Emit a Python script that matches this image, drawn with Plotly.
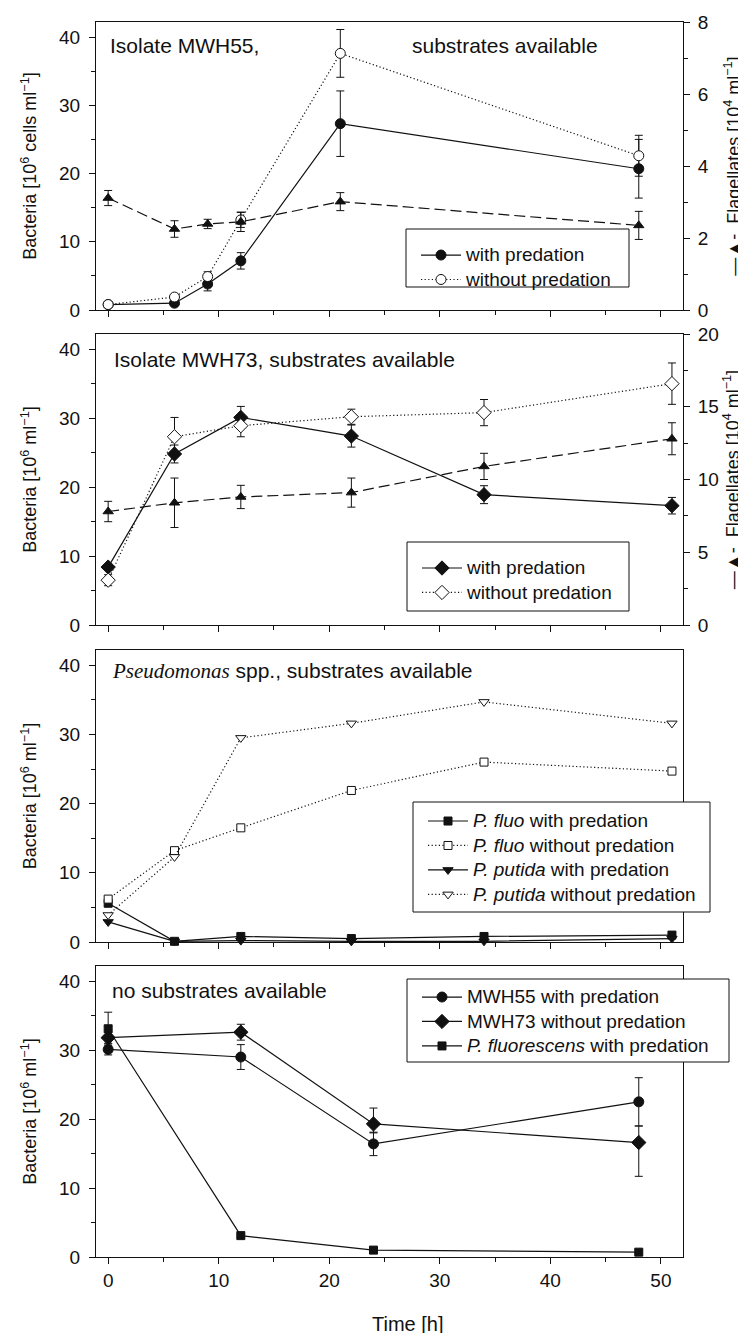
import plotly.graph_objects as go

# ---------------- data ----------------
# Panel 1: Isolate MWH55, substrates available
p1_time = [0, 6, 9, 12, 21, 48]
p1_with = [0.8, 1.0, 3.8, 7.2, 27.3, 20.7]
p1_with_err = [0.3, 0.3, 1.0, 1.2, 4.8, 4.3]
p1_without = [0.8, 1.9, 4.9, 13.2, 37.6, 22.6]
p1_without_err = [0.3, 0.3, 0.7, 1.1, 3.5, 3.0]
p1_flag = [3.11, 2.25, 2.39, 2.45, 3.01, 2.35]
p1_flag_err = [0.21, 0.23, 0.13, 0.27, 0.25, 0.39]

# Panel 2: Isolate MWH73, substrates available
p2_time = [0, 6, 12, 22, 34, 51]
p2_with = [8.4, 24.8, 30.1, 27.4, 18.9, 17.3]
p2_with_err = [0.4, 1.3, 1.6, 1.6, 1.3, 1.2]
p2_without = [6.5, 27.3, 28.9, 30.2, 30.8, 35.0]
p2_without_err = [0.8, 2.8, 1.6, 1.1, 1.9, 3.0]
p2_flag = [7.8, 8.4, 8.8, 9.1, 10.9, 12.8]
p2_flag_err = [0.7, 1.7, 0.8, 1.0, 0.9, 1.1]

# Panel 3: Pseudomonas spp., substrates available
p3_time = [0, 6, 12, 22, 34, 51]
p3_fluo_with = [5.6, 0.1, 0.8, 0.5, 0.8, 1.0]
p3_fluo_without = [6.2, 13.2, 16.5, 21.9, 26.0, 24.7]
p3_putida_with = [2.9, 0.1, 0.2, 0.1, 0.1, 0.5]
p3_putida_without = [3.9, 12.3, 29.5, 31.6, 34.7, 31.6]

# Panel 4: no substrates available
p4_time = [0, 12, 24, 48]
p4_mwh55 = [30.1, 29.0, 16.4, 22.5]
p4_mwh55_err = [0.8, 1.8, 1.7, 3.5]
p4_mwh73 = [31.8, 32.6, 19.3, 16.6]
p4_mwh73_err_plus = [0.8, 1.15, 2.3, 2.4]
p4_mwh73_err_minus = [0.8, 1.15, 1.3, 4.9]
p4_pfluo = [33.1, 3.1, 1.0, 0.7]
p4_pfluo_err = [2.4, 0.2, 0.1, 0.2]

x_ticks = [0, 10, 20, 30, 40, 50]

# ---------------- layout helpers ----------------
W, H = 746, 1333
ML, MR, MT, MB = 88, 71, 14, 84
PW, PH = W - ML - MR, H - MT - MB


def px_x(px):
    return (px - ML) / PW


def px_y(py):
    return (H - MB - py) / PH


FONT = "Liberation Sans, Arial, sans-serif"
BLACK = "#111111"
LEG_TXT = '<span style="font-size:19px">{}</span>'
DOT = "1.2px,2.4px"
DASH = "11px,5px"

fig = go.Figure()


def err(arr, minus=None, width=4):
    d = dict(type="data", array=arr, color=BLACK, thickness=1, width=width, visible=True)
    if minus is not None:
        d["symmetric"] = False
        d["arrayminus"] = minus
    return d


def trace(x, y, xa, ya, name, symbol, filled, dash, size, legend=None, error=None, showlegend=True):
    fig.add_trace(go.Scatter(
        x=x, y=y, xaxis=xa, yaxis=ya, name=LEG_TXT.format(name), mode="lines+markers",
        line=dict(color=BLACK, width=1.2, dash=dash),
        marker=dict(symbol=symbol, size=size, color=BLACK if filled else "white",
                    line=dict(color=BLACK, width=1)),
        error_y=error, cliponaxis=False, legend=legend, showlegend=showlegend,
    ))


# Panel 1
trace(p1_time, p1_flag, "x", "y5", "flagellates", "triangle-up", True, DASH, 9,
      error=err(p1_flag_err), showlegend=False)
trace(p1_time, p1_with, "x", "y", "with predation", "circle", True, "solid", 10,
      legend="legend", error=err(p1_with_err))
trace(p1_time, p1_without, "x", "y", "without predation", "circle", False, DOT, 10,
      legend="legend", error=err(p1_without_err))

# Panel 2
trace(p2_time, p2_flag, "x2", "y6", "flagellates", "triangle-up", True, DASH, 9,
      error=err(p2_flag_err), showlegend=False)
trace(p2_time, p2_with, "x2", "y2", "with predation", "diamond", True, "solid", 11,
      legend="legend2", error=err(p2_with_err))
trace(p2_time, p2_without, "x2", "y2", "without predation", "diamond", False, DOT, 11,
      legend="legend2", error=err(p2_without_err))

# Panel 3
trace(p3_time, p3_fluo_with, "x3", "y3", "<i>P. fluo</i> with predation", "square", True, "solid", 8,
      legend="legend3")
trace(p3_time, p3_fluo_without, "x3", "y3", "<i>P. fluo</i> without predation", "square", False, DOT, 8,
      legend="legend3")
trace(p3_time, p3_putida_with, "x3", "y3", "<i>P. putida</i> with predation", "triangle-down", True, "solid", 9,
      legend="legend3")
trace(p3_time, p3_putida_without, "x3", "y3", "<i>P. putida</i> without predation", "triangle-down", False, DOT, 9,
      legend="legend3")

# Panel 4
trace(p4_time, p4_mwh55, "x4", "y4", "MWH55 with predation", "circle", True, "solid", 10,
      legend="legend4", error=err(p4_mwh55_err))
trace(p4_time, p4_mwh73, "x4", "y4", "MWH73 without predation", "diamond", True, "solid", 11,
      legend="legend4", error=err(p4_mwh73_err_plus, p4_mwh73_err_minus))
trace(p4_time, p4_pfluo, "x4", "y4", "<i>P. fluorescens</i> with predation", "square", True, "solid", 8,
      legend="legend4", error=err(p4_pfluo_err))

# panel pixel boxes (top, bottom)
boxes = [(14, 302), (326, 617), (642, 934), (958, 1249)]
domains = [[px_y(b), px_y(t)] for t, b in boxes]

axis_common = dict(showline=True, linecolor=BLACK, linewidth=1, showgrid=False, zeroline=False,
                   ticks="outside", ticklen=6, tickwidth=1, tickcolor=BLACK,
                   tickfont=dict(size=19, color=BLACK, family=FONT))

layout = dict(
    width=W, height=H, margin=dict(l=ML, r=MR, t=MT, b=MB, autoexpand=False),
    paper_bgcolor="white", plot_bgcolor="white",
    font=dict(family=FONT, color=BLACK, size=18),
)

for i in range(4):
    xk = "xaxis" if i == 0 else f"xaxis{i + 1}"
    yk = "yaxis" if i == 0 else f"yaxis{i + 1}"
    ya = "y" if i == 0 else f"y{i + 1}"
    xa = "x" if i == 0 else f"x{i + 1}"
    layout[xk] = dict(axis_common, domain=[0, 1], anchor=ya, range=[-1.1, 52],
                      tickvals=x_ticks, showticklabels=(i == 3), mirror=True,
                      minor=dict(dtick=5, tick0=0, ticks="outside", ticklen=4, tickcolor=BLACK))
    ytitle = "Bacteria [10<sup>6</sup> cells ml<sup>\u22121</sup>]" if i == 0 else "Bacteria [10<sup>6</sup> ml<sup>\u22121</sup>]"
    layout[yk] = dict(axis_common, domain=domains[i], anchor=xa, range=[0, 42.2],
                      tickvals=[0, 10, 20, 30, 40], mirror=True, ticklabelstandoff=5,
                      minor=dict(dtick=5, tick0=0, ticks="outside", ticklen=4, tickcolor=BLACK),
                      title=dict(text=ytitle, font=dict(size=18, family=FONT, color=BLACK), standoff=17))

flag_title = "\u2014\u25B2-  Flagellates [10<sup>4</sup> ml<sup>\u22121</sup>]"
layout["yaxis5"] = dict(axis_common, overlaying="y", anchor="x", side="right", range=[0, 8],
                        tickvals=[0, 2, 4, 6, 8], ticklabelstandoff=4,
                        minor=dict(dtick=1, tick0=0, ticks="outside", ticklen=4, tickcolor=BLACK),
                        title=dict(text=flag_title, font=dict(size=18, family=FONT, color=BLACK), standoff=19))
layout["yaxis6"] = dict(axis_common, overlaying="y2", anchor="x2", side="right", range=[0, 20],
                        tickvals=[0, 5, 10, 15, 20], ticklabelstandoff=4,
                        minor=dict(dtick=2.5, tick0=0, ticks="outside", ticklen=4, tickcolor=BLACK),
                        title=dict(text=flag_title, font=dict(size=18, family=FONT, color=BLACK), standoff=8))

# legends: (box left, box top, box right, box bottom, first row y)
leg_boxes = [
    (398, 221, 621, 279, 247),
    (399, 534, 621, 603, 560),
    (405, 794, 702, 904, 813),
    (399, 971, 721, 1054, 989),
]
shapes = []
for j, (l, t, r, b, row) in enumerate(leg_boxes):
    key = "legend" if j == 0 else f"legend{j + 1}"
    layout[key] = dict(x=px_x(l + 10), y=px_y(row - 17.2), xanchor="left", yanchor="top",
                       bgcolor="rgba(0,0,0,0)", borderwidth=0, itemwidth=40,
                       font=dict(size=16.5, family=FONT, color=BLACK), tracegroupgap=0,
                       traceorder="normal")
    shapes.append(dict(type="rect", xref="paper", yref="paper", x0=px_x(l), x1=px_x(r),
                       y0=px_y(b), y1=px_y(t), line=dict(color=BLACK, width=1),
                       fillcolor="white", layer="above"))
layout["shapes"] = shapes

ann_font = dict(size=21, family=FONT, color=BLACK)
annotations = [
    dict(text="Isolate MWH55,", x=px_x(100), y=px_y(37)),
    dict(text="substrates available", x=px_x(402), y=px_y(37)),
    dict(text="Isolate MWH73, substrates available", x=px_x(104), y=px_y(352)),
    dict(text="<span style=\"font-family:Liberation Serif, Times New Roman, serif\"><i>Pseudomonas</i></span> spp., substrates available",
         x=px_x(102), y=px_y(663)),
    dict(text="no substrates available", x=px_x(102), y=px_y(982)),
]
for a in annotations:
    a.update(xref="paper", yref="paper", xanchor="left", yanchor="middle", showarrow=False, font=ann_font)
annotations.append(dict(text="Time [h]", x=px_x(400), y=px_y(1316), xref="paper", yref="paper",
                        xanchor="center", yanchor="middle", showarrow=False,
                        font=dict(size=20, family=FONT, color=BLACK)))
layout["annotations"] = annotations

fig.update_layout(**layout)
fig.write_html("out.html")
